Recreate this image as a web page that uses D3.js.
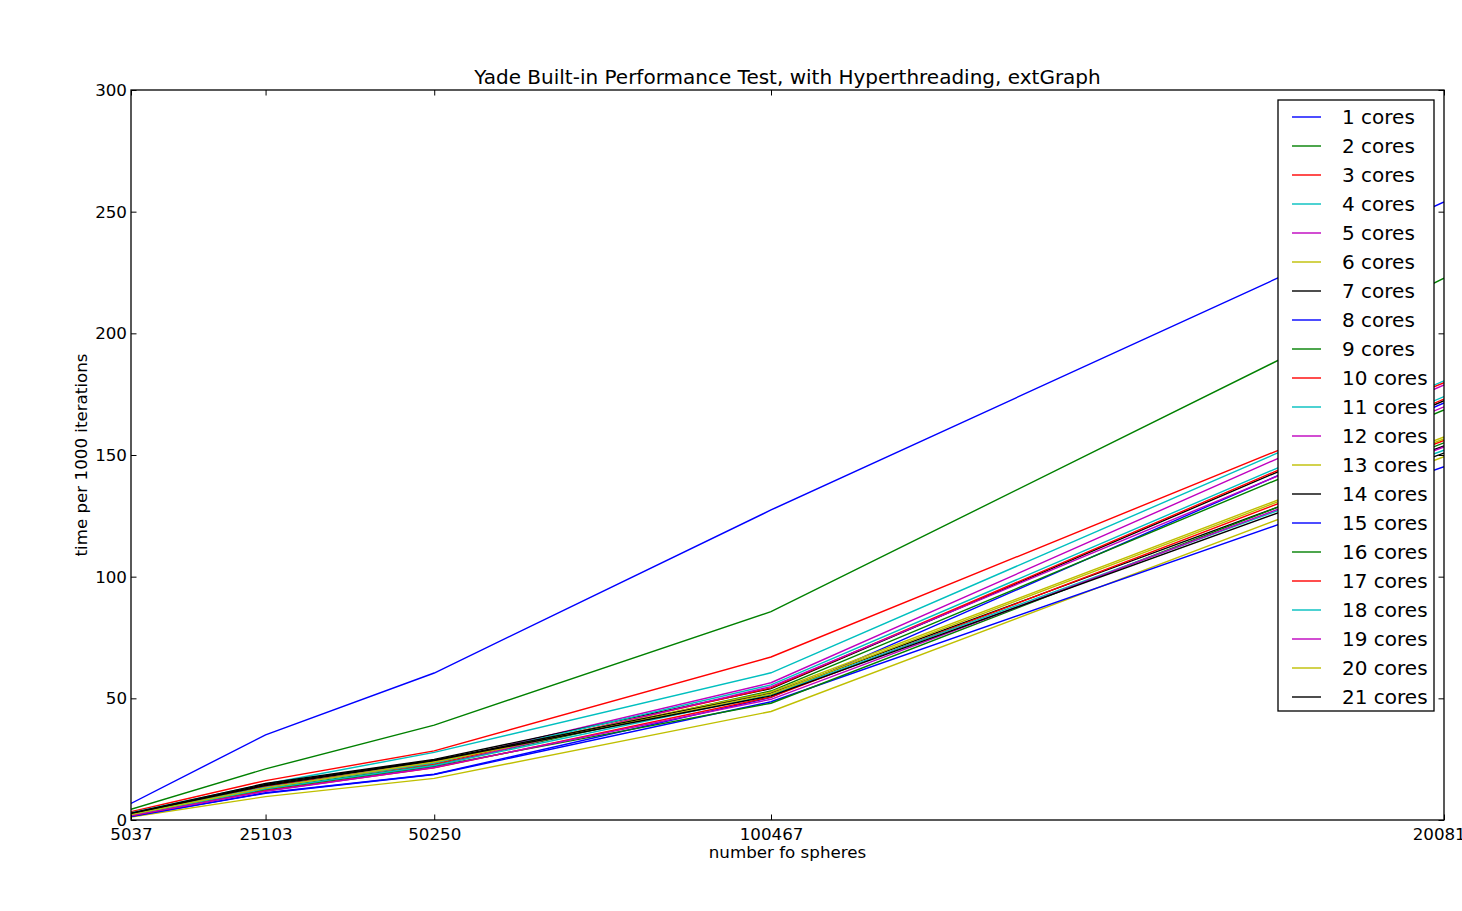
<!DOCTYPE html>
<html>
<head>
<meta charset="utf-8">
<script src="https://cdn.jsdelivr.net/npm/d3@7"></script>
<style>
  body { margin: 0; background: #fff; }
  svg { display: block; font-family: "DejaVu Sans", sans-serif; }
</style>
</head>
<body>
<svg id="chart"></svg>
<script>
// number of spheres (x positions / tick labels)
const spheres = [5037, 25103, 50250, 100467, 200817];
const seriesNames = d3.range(1, 22).map(i => i + ' cores');
const yTicks = [0, 50, 100, 150, 200, 250, 300];

// time per 1000 iterations, one row per core count
const c1 = [6.8, 35.0, 60.4, 127.4, 254.0];
const c2 = [4.4, 21.0, 39.0, 85.6, 222.7];
const c3 = [3.4, 16.2, 28.4, 67.0, 179.7];
const c4 = [3.0, 14.8, 27.8, 60.5, 180.5];
const c5 = [2.6, 13.6, 23.6, 56.4, 178.8];
const c6 = [1.2, 9.6, 17.1, 44.6, 149.3];
const c7 = [2.8, 15.0, 24.9, 54.0, 172.3];
const c8 = [1.5, 11.2, 18.8, 50.4, 171.4];
const c9 = [2.2, 13.0, 22.6, 53.0, 168.5];
const c10 = [2.5, 14.0, 23.0, 54.3, 173.0];
const c11 = [2.3, 13.4, 23.4, 55.5, 174.0];
const c12 = [2.0, 12.6, 22.2, 54.8, 169.8];
const c13 = [2.4, 14.4, 24.2, 52.6, 157.4];
const c14 = [2.6, 14.6, 24.6, 52.0, 153.7];
const c15 = [1.4, 11.0, 18.7, 48.6, 145.2];
const c16 = [1.9, 12.4, 22.0, 48.0, 155.0];
const c17 = [1.7, 12.0, 21.4, 50.5, 156.0];
const c18 = [2.1, 12.8, 22.4, 51.4, 152.0];
const c19 = [1.8, 11.8, 21.6, 49.6, 153.3];
const c20 = [2.2, 13.2, 23.8, 51.8, 156.6];
const c21 = [2.7, 14.2, 24.4, 51.0, 150.8];
const allSeries = [c1, c2, c3, c4, c5, c6, c7, c8, c9, c10, c11, c12, c13, c14, c15, c16, c17, c18, c19, c20, c21];

// matplotlib classic colour cycle
const cycle = ['#0000ff', '#008000', '#ff0000', '#00bfbf', '#bf00bf', '#bfbf00', '#000000'];

const W = 1462, H = 911;
const margin = { top: 90, right: 18, bottom: 91, left: 131 };
const width = W - margin.left - margin.right;
const height = H - margin.top - margin.bottom;

const svg = d3.select('#chart')
    .attr('width', W)
    .attr('height', H);

const g = svg.append('g')
    .attr('transform', `translate(${margin.left},${margin.top})`);

const x = d3.scaleLinear()
    .domain([spheres[0], spheres[spheres.length - 1]])
    .range([0, width]);

const y = d3.scaleLinear()
    .domain([0, 300])
    .range([height, 0]);

g.append('clipPath').attr('id', 'clip')
    .append('rect').attr('width', width).attr('height', height);

// lines
const line = d3.line()
    .x((d, i) => x(spheres[i]))
    .y(d => y(d));

g.append('g').attr('clip-path', 'url(#clip)')
    .selectAll('path')
    .data(allSeries)
    .enter().append('path')
    .attr('d', line)
    .attr('fill', 'none')
    .attr('stroke', (d, i) => cycle[i % cycle.length])
    .attr('stroke-width', 1.4);

// axes: ticks pointing inward, on all four sides
const tickLen = 5.5;
const xAxis = d3.axisBottom(x).tickValues(spheres).tickFormat(d3.format('d'))
    .tickSizeInner(-tickLen).tickSizeOuter(0).tickPadding(10);
const yAxis = d3.axisLeft(y).tickValues(yTicks)
    .tickSizeInner(-tickLen).tickSizeOuter(0).tickPadding(10);

const gx = g.append('g').attr('transform', `translate(0,${height})`).call(xAxis);
const gy = g.append('g').call(yAxis);
g.append('g').call(d3.axisTop(x).tickValues(spheres).tickFormat('').tickSizeInner(-tickLen).tickSizeOuter(0));
g.append('g').attr('transform', `translate(${width},0)`)
    .call(d3.axisRight(y).tickValues(yTicks).tickFormat('').tickSizeInner(-tickLen).tickSizeOuter(0));

g.selectAll('.domain').remove();
g.selectAll('.tick line').attr('stroke', '#000').attr('stroke-width', 1);
[gx, gy].forEach(a => a.selectAll('.tick text')
    .attr('font-size', 16.7).attr('fill', '#000')
    .attr('font-family', '"DejaVu Sans", sans-serif'));
gy.selectAll('.tick text').attr('dx', 6);
gx.selectAll('.tick text').attr('dy', '0.6em');

// frame
g.append('rect')
    .attr('width', width).attr('height', height)
    .attr('fill', 'none').attr('stroke', '#000').attr('stroke-width', 1.3);

// title and labels
svg.append('text')
    .attr('x', margin.left + width / 2).attr('y', 84)
    .attr('text-anchor', 'middle').attr('font-size', 20)
    .text('Yade Built-in Performance Test, with Hyperthreading, extGraph');

svg.append('text')
    .attr('x', margin.left + width / 2).attr('y', 858)
    .attr('text-anchor', 'middle').attr('font-size', 16.7)
    .text('number fo spheres');

svg.append('text')
    .attr('transform', `translate(87,${margin.top + height / 2}) rotate(-90)`)
    .attr('text-anchor', 'middle').attr('font-size', 16.7)
    .text('time per 1000 iterations');

// legend
const legend = svg.append('g').attr('transform', 'translate(1278,100)');
const rowH = 29;
legend.append('rect')
    .attr('width', 156).attr('height', 611)
    .attr('fill', '#fff').attr('stroke', '#000').attr('stroke-width', 1.3);

const rows = legend.selectAll('.row')
    .data(seriesNames)
    .enter().append('g')
    .attr('transform', (d, i) => `translate(0,${17 + i * rowH})`);

rows.append('line')
    .attr('x1', 14).attr('x2', 43)
    .attr('stroke', (d, i) => cycle[i % cycle.length])
    .attr('stroke-width', 1.4);

rows.append('text')
    .attr('x', 64).attr('y', 7)
    .attr('font-size', 20)
    .text(d => d);
</script>
</body>
</html>
